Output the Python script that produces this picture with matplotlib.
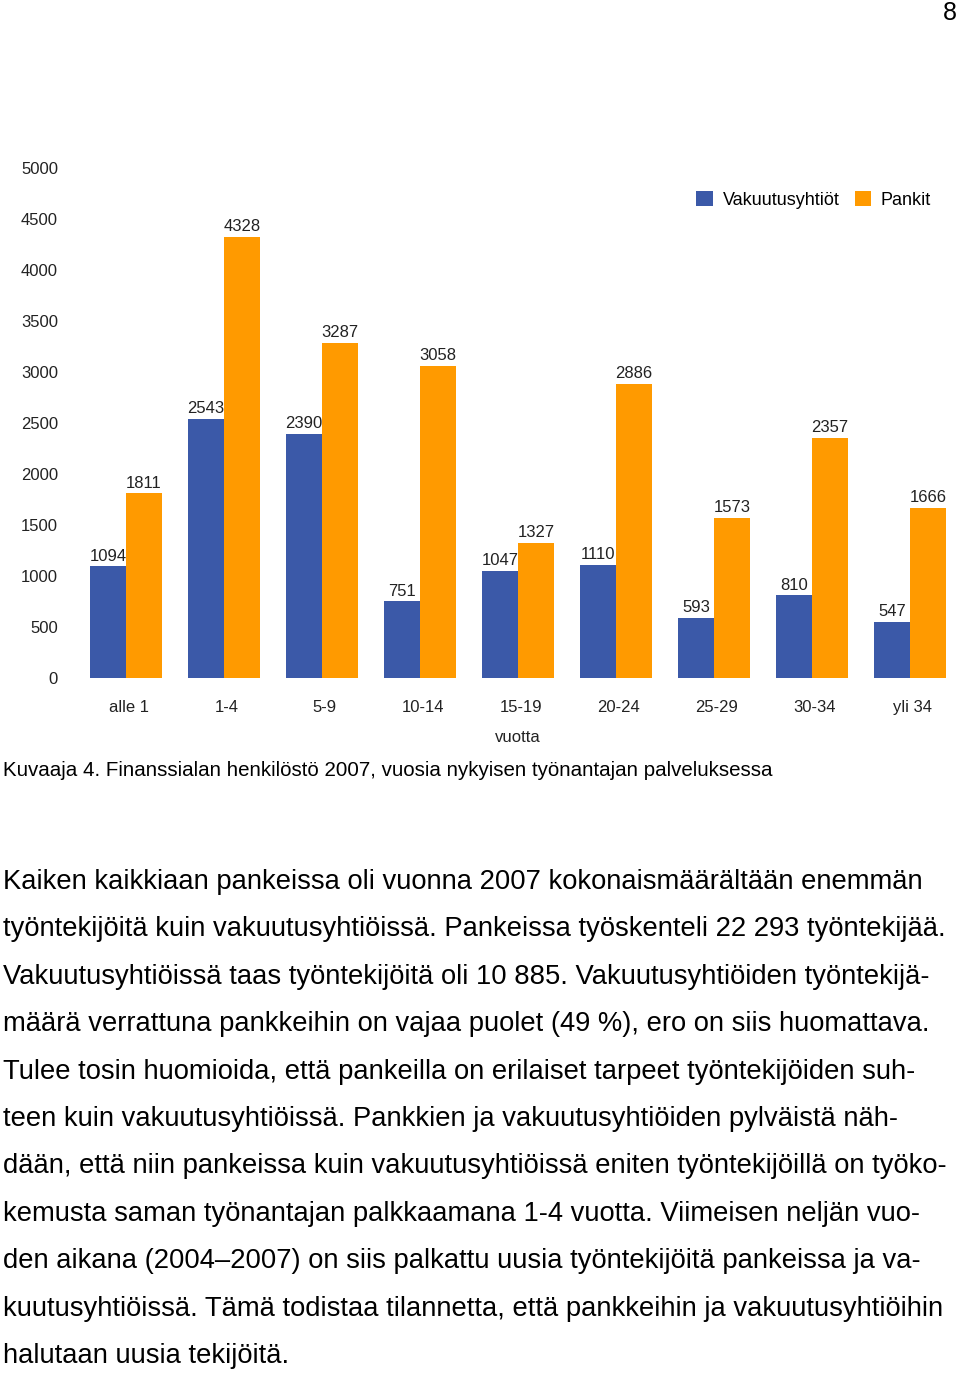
import matplotlib.pyplot as plt
import numpy as np

plt.rcParams['font.family'] = ['Liberation Sans', 'DejaVu Sans']

groups = ['alle 1', '1-4', '5-9', '10-14', '15-19', '20-24', '25-29', '30-34', 'yli 34']
vakuutus = [1094, 2543, 2390, 751, 1047, 1110, 593, 810, 547]
pankit = [1811, 4328, 3287, 3058, 1327, 2886, 1573, 2357, 1666]
yticks = [0, 500, 1000, 1500, 2000, 2500, 3000, 3500, 4000, 4500, 5000]

caption = 'Kuvaaja 4. Finanssialan henkilöstö 2007, vuosia nykyisen työnantajan palveluksessa'
body = [
    'Kaiken kaikkiaan pankeissa oli vuonna 2007 kokonaismäärältään enemmän',
    'työntekijöitä kuin vakuutusyhtiöissä. Pankeissa työskenteli 22 293 työntekijää.',
    'Vakuutusyhtiöissä taas työntekijöitä oli 10 885. Vakuutusyhtiöiden työntekijä-',
    'määrä verrattuna pankkeihin on vajaa puolet (49 %), ero on siis huomattava.',
    'Tulee tosin huomioida, että pankeilla on erilaiset tarpeet työntekijöiden suh-',
    'teen kuin vakuutusyhtiöissä. Pankkien ja vakuutusyhtiöiden pylväistä näh-',
    'dään, että niin pankeissa kuin vakuutusyhtiöissä eniten työntekijöillä on työko-',
    'kemusta saman työnantajan palkkaamana 1-4 vuotta. Viimeisen neljän vuo-',
    'den aikana (2004–2007) on siis palkattu uusia työntekijöitä pankeissa ja va-',
    'kuutusyhtiöissä. Tämä todistaa tilannetta, että pankkeihin ja vakuutusyhtiöihin',
    'halutaan uusia tekijöitä.',
]

W, H = 960, 1374
fig = plt.figure(figsize=(W / 100, H / 100), dpi=100)

# axes placed in pixel terms of the page
left, right, bottom, top = 76, 958, 678, 168
ax = fig.add_axes([left / W, 1 - bottom / H, (right - left) / W, (bottom - top) / H])

x = np.arange(len(groups))
w = 0.367
blue = '#3b59a8'
orange = '#ff9a00'
b1 = ax.bar(x - w / 2 + 0.01, vakuutus, w, color=blue, label='Vakuutusyhtiöt')
b2 = ax.bar(x + w / 2 + 0.01, pankit, w, color=orange, label='Pankit')
ax.bar_label(b1, padding=2, fontsize=12, color='#222222')
ax.bar_label(b2, padding=2, fontsize=12, color='#222222')

ax.set_xlim(-0.5, 8.5)
ax.set_ylim(0, 5000)
ax.set_yticks(yticks)
ax.set_xticks(x + 0.04)
ax.set_xticklabels(groups)
ax.tick_params(axis='both', length=0, labelsize=12, colors='#222222')
ax.tick_params(axis='y', pad=13)
ax.tick_params(axis='x', pad=15.5)
for s in ax.spines.values():
    s.set_visible(False)

leg = ax.legend(loc='center left', bbox_to_anchor=(680 / W, 1 - 200 / H),
                bbox_transform=fig.transFigure, ncol=2, frameon=False,
                fontsize=13, handlelength=0.9, handleheight=0.9,
                handletextpad=0.55, columnspacing=0.85)

fig.text(518 / W, 1 - 737 / H, 'vuotta', ha='center', va='center', fontsize=12, color='#222222')
fig.text(3 / W, 1 - 770 / H, caption, ha='left', va='center', fontsize=14.8)
fig.text(950 / W, 1 - 13 / H, '8', ha='center', va='center', fontsize=18)

for i, line in enumerate(body):
    fig.text(3 / W, 1 - (882 + 47.4 * i) / H, line, ha='left', va='center', fontsize=19.7)

fig.savefig('out.png', dpi=100, facecolor='white')
